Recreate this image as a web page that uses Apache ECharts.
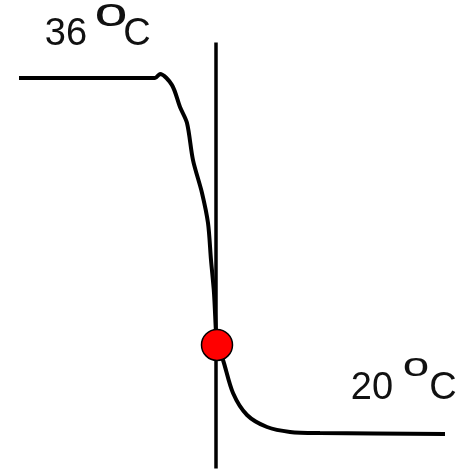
<!DOCTYPE html>
<html><head><meta charset="utf-8">
<script src="https://cdn.jsdelivr.net/npm/echarts@6/dist/echarts.min.js"></script>
<style>html,body{margin:0;padding:0;background:#fff}#c{width:458px;height:471px}</style>
</head><body><div id="c"></div>
<script>
// Temperature profile across a wall (distance in arbitrary units, temperature in °C)
const distance = [-9.85, -3.05, -2.8, -2.2, -1.8, -1.45, -1.15, -0.7, -0.4, -0.25, -0.1, 0, 0.05, 0.35, 0.85, 1.55, 2.55, 3.7, 5.2, 11.45];
const temperature = [36, 36, 36.18, 35.68, 34.69, 33.97, 32.30, 30.82, 29.46, 27.80, 26.31, 24.51, 23.97, 23.29, 21.80, 20.81, 20.27, 20.05, 20.0, 19.96];
const wallDistance = [0, 0];
const wallTemperature = [37.6, 18.4];
const interfaceDistance = [0.05];
const interfaceTemperature = [23.97];
const hotLabel = ['36', 'o', 'C'];
const coldLabel = ['20', 'o', 'C'];

// layout
const W = 458, H = 471;
const X0_PX = 216, PX_PER_UNIT = 20;
const T36_PX = 78, T20_PX = 433;
const pxPerDeg = (T20_PX - T36_PX) / 16;
const xMin = -X0_PX / PX_PER_UNIT, xMax = (W - X0_PX) / PX_PER_UNIT;
const yMax = 36 + T36_PX / pxPerDeg, yMin = 36 - (H - T36_PX) / pxPerDeg;

const zip = (a, b) => a.map((v, i) => [v, b[i]]);
const font = 'Liberation Sans, Arial, sans-serif';
function txt(t, x, y, size, sx) {
  return { type: 'text', x: x, y: y, scaleX: sx || 1, z: 100,
    style: { text: t, fontSize: size, fontFamily: font, fill: '#111', align: 'center', verticalAlign: 'middle' } };
}

const chart = echarts.init(document.getElementById('c'));
chart.setOption({
  animation: false,
  grid: { left: 0, right: 0, top: 0, bottom: 0 },
  xAxis: { type: 'value', min: xMin, max: xMax, show: false },
  yAxis: { type: 'value', min: yMin, max: yMax, show: false },
  series: [
    { type: 'line', data: zip(wallDistance, wallTemperature), symbol: 'none',
      lineStyle: { color: '#000', width: 3.5 } },
    { type: 'line', data: zip(distance, temperature), symbol: 'none', smooth: 0.3,
      lineStyle: { color: '#000', width: 4 } },
    { type: 'scatter', data: zip(interfaceDistance, interfaceTemperature), symbolSize: 31,
      itemStyle: { color: '#ff0000', borderColor: '#000', borderWidth: 1.5, opacity: 1 }, z: 10 }
  ],
  graphic: [
    txt(hotLabel[0], 66, 35, 38),
    txt(hotLabel[1], 111, 15, 41, 1.45),
    txt(hotLabel[2], 137, 35, 38),
    txt(coldLabel[0], 372, 389, 38),
    txt(coldLabel[1], 416, 367, 34, 1.4),
    txt(coldLabel[2], 443, 389, 38)
  ]
});
</script></body></html>
